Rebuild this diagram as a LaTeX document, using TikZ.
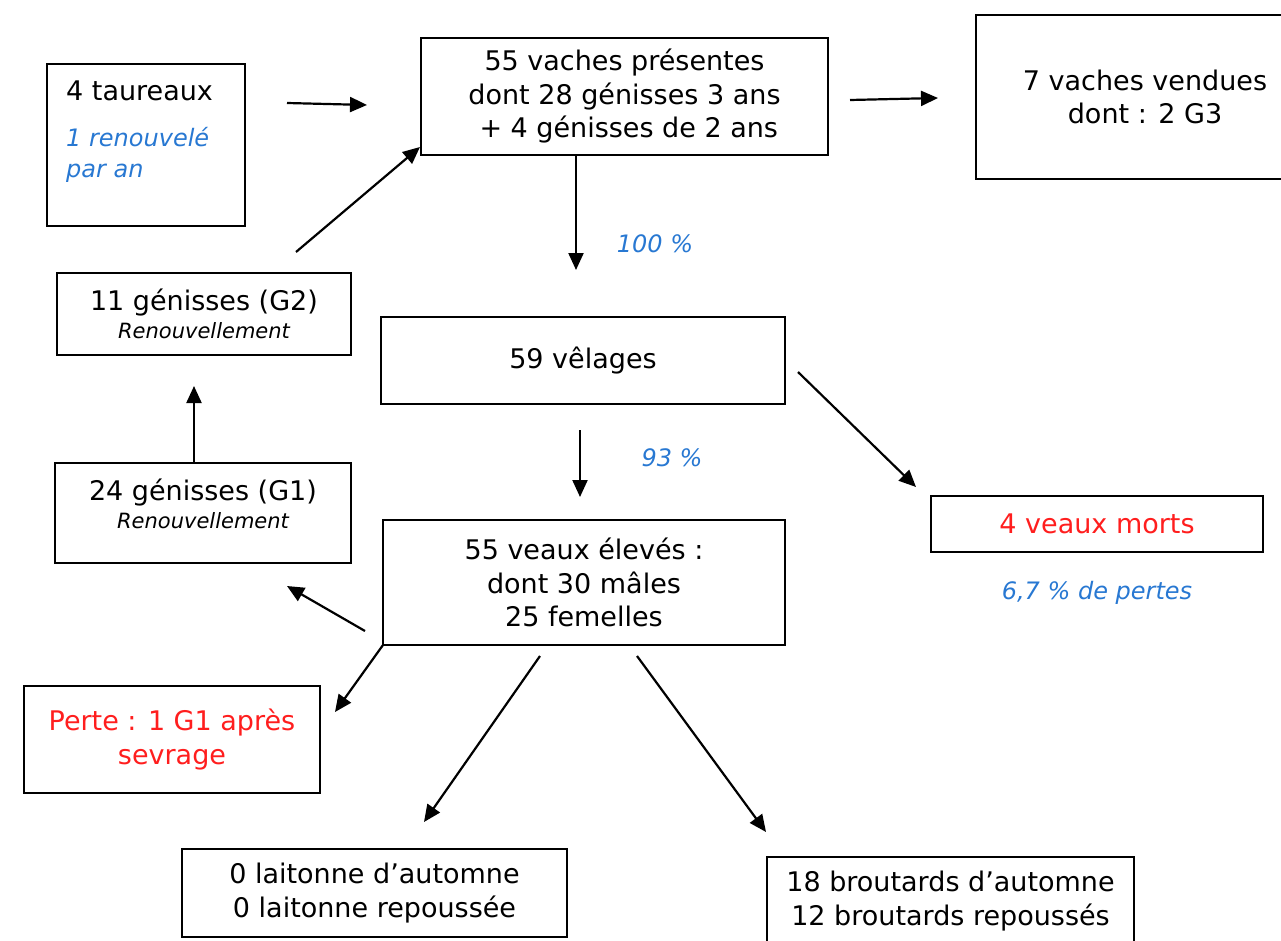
\documentclass[tikz,border=0pt]{standalone}
\usepackage{fontspec}
\setmainfont{DejaVu Sans}
\usetikzlibrary{arrows.meta}
\definecolor{lblue}{RGB}{40,120,210}
\definecolor{lred}{RGB}{255,30,30}
\tikzset{
  box/.style={draw, line width=2.2pt, inner sep=0pt, align=center, font=\fontsize{27}{33.5}\selectfont},
  txt/.style={inner sep=0pt, align=center, font=\fontsize{27}{33.5}\selectfont},
  arr/.style={line width=2.2pt, -{Triangle[length=17pt,width=15pt]}},
  note/.style={inner sep=0pt, text=lblue, font=\fontsize{24}{31}\selectfont\itshape},
}
\newcommand{\renouv}{{\fontsize{21}{26}\selectfont\itshape Renouvellement}}
\begin{document}
\begin{tikzpicture}[x=1pt,y=-1pt]
\useasboundingbox (0,0) rectangle (1281,941);
% boxes
\node[box, minimum width=198, minimum height=162] (taur) at (146,145) {};
\node[txt, anchor=base west] (taurt) at (66,101) {4 taureaux};
\node[note, anchor=base west, align=left] (taurn) at (66,178) {1 renouvelé\\par an};

\node[box, minimum width=407, minimum height=117] (vaches) at (624.5,96.5)
  {55 vaches présentes\\dont 28 génisses 3 ans\\\ + 4 génisses de 2 ans};
\node[box, minimum width=338, minimum height=164] (vendues) at (1145,97)
  {7 vaches vendues\\dont : 2 G3};
\node[box, minimum width=404, minimum height=87] (velages) at (583,360.5) {59 vêlages};
\node[box, minimum width=294, minimum height=82] (g2) at (204,314)
  {11 génisses (G2)\\[-5.5pt]\renouv};
\node[box, minimum width=296, minimum height=100] (g1) at (203,513) {};
\node[txt] (g1t) at (203,504) {24 génisses (G1)\\[-5.5pt]\renouv};
\node[box, minimum width=402, minimum height=125] (veaux) at (584,582.5)
  {55 veaux élevés :\\dont 30 mâles\\25 femelles};
\node[box, minimum width=332, minimum height=56, text=lred] (morts) at (1097,524) {4 veaux morts};
\node[note] (pertes) at (1097,593) {6,7 \% de pertes};
\node[box, minimum width=296, minimum height=107, text=lred] (perte) at (172,739.5)
  {Perte : 1 G1 après\\sevrage};
\node[box, minimum width=385, minimum height=88] (lait) at (374.5,893)
  {0 laitonne d’automne\\0 laitonne repoussée};
\node[box, minimum width=367, minimum height=88] (brout) at (950.5,901)
  {18 broutards d’automne\\12 broutards repoussés};
\node[note] (p100) at (655,244) {100 \%};
\node[note] (p93) at (672,458) {93 \%};
% connector end points
\coordinate (a1s) at (287,103); \coordinate (a1e) at (367,105);
\coordinate (a2s) at (296,252); \coordinate (a2e) at (420,147);
\coordinate (a3s) at (576,155); \coordinate (a3e) at (576,270);
\coordinate (a4s) at (850,100); \coordinate (a4e) at (938,98);
\coordinate (a5s) at (798,372); \coordinate (a5e) at (916,487);
\coordinate (a6s) at (580,430); \coordinate (a6e) at (580,497);
\coordinate (a7s) at (365,631); \coordinate (a7e) at (287,586);
\coordinate (a8s) at (194,463); \coordinate (a8e) at (194,386);
\coordinate (a9s) at (383,645); \coordinate (a9e) at (335,712);
\coordinate (a10s) at (540,656); \coordinate (a10e) at (424,822);
\coordinate (a11s) at (637,656); \coordinate (a11e) at (766,832);
\draw[arr] (a1s) -- (a1e);
\draw[arr] (a2s) -- (a2e);
\draw[arr] (a3s) -- (a3e);
\draw[arr] (a4s) -- (a4e);
\draw[arr] (a5s) -- (a5e);
\draw[arr] (a6s) -- (a6e);
\draw[arr] (a7s) -- (a7e);
\draw[arr] (a8s) -- (a8e);
\draw[arr] (a9s) -- (a9e);
\draw[arr] (a10s) -- (a10e);
\draw[arr] (a11s) -- (a11e);
\end{tikzpicture}
\end{document}
